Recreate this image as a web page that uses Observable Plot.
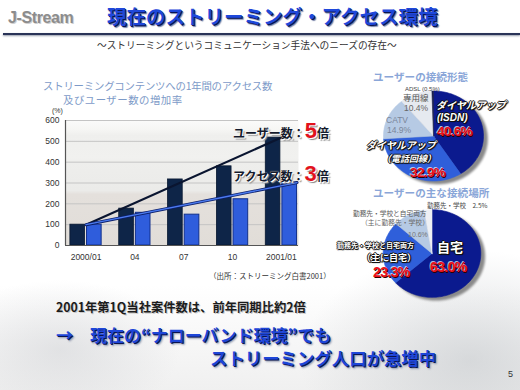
<!DOCTYPE html>
<html><head><meta charset="utf-8">
<script src="https://cdn.jsdelivr.net/npm/d3@7"></script>
<script src="https://cdn.jsdelivr.net/npm/@observablehq/plot@0.6"></script>
<style>
html,body{margin:0;padding:0;}
body{width:520px;height:390px;overflow:hidden;position:relative;font-family:"Noto Sans CJK JP",sans-serif;
 background:
  radial-gradient(ellipse 170px 110px at 470px 360px, rgba(190,194,198,0.55), rgba(255,255,255,0) 100%),
  radial-gradient(ellipse 120px 70px at 60px 350px, rgba(200,202,206,0.45), rgba(255,255,255,0) 100%),
  linear-gradient(to bottom, #fff 0, #fff 285px, #f0f0f0 390px);}
.abs{position:absolute;white-space:nowrap;line-height:1;}
.plotbox{position:absolute;}
.ann{font-size:12px;font-weight:bold;color:#141a2c;text-shadow:0 0 1px #fff,1px 1px 0 #fff,2px 2px 1px #999;}
.ann .big{font-family:"Liberation Sans",Arial,sans-serif;font-size:22px;color:#e2121c;text-shadow:1px 1px 0 #fff,2px 2px 1px #888;}
.wl{color:#fff;font-weight:bold;font-style:italic;text-shadow:-1px 0 0 #111,1px 0 0 #111,0 -1px 0 #111,0 1px 0 #111,1px 1px 1px #000;}
.red{font-family:"Liberation Sans",Arial,sans-serif;font-weight:bold;color:#ec101a;letter-spacing:-0.6px;text-shadow:-1px -1px 0 rgba(255,255,255,0.7),1px 1px 0 #2a0000;}
.blue{font-weight:bold;color:#1e46d8;text-shadow:1px 1px 0 #0a1450,2px 2px 2px #8890a8;}
.lib{font-family:"Liberation Sans",Arial,sans-serif;}
</style></head><body>

<script>
// ---------- data ----------
const periods = ["2000/01", "04", "07", "10", "2001/01"];
const userGrowth = [100, 177, 317, 380, 518];
const accessGrowth = [100, 157, 148, 222, 302];
const yTicks = [0, 100, 200, 300, 400, 500, 600];

const connTypes = ["ダイヤルアップ(ISDN)", "ダイヤルアップ(電話回線)", "CATV", "専用線", "ADSL"];
const connShares = [40.6, 32.9, 14.9, 10.4, 0.5];
const connColors = ["#0b1a8e", "#2f5fda", "#b6cae4", "#e6eaf0", "#1a2050"];

const placeTypes = ["自宅", "勤務先・学校と自宅両方(主に自宅)", "勤務先・学校と自宅両方(主に勤務先・学校)", "勤務先・学校"];
const placeShares = [63.0, 23.3, 10.6, 2.5];
const placeColors = ["#0b1a8e", "#2f5fda", "#b6cae4", "#eef0f4"];

// ---------- bar chart ----------
const barW = 0.32;
const users = periods.map((p, i) => ({period: p, x1: i - barW, x2: i, v: userGrowth[i]}));
const access = periods.map((p, i) => ({period: p, x1: i, x2: i + barW, v: accessGrowth[i]}));
const last = periods.length - 1;
const userTrend = [{x: 0, y: userGrowth[0]}, {x: last, y: userGrowth[last]}];
const accessTrend = [{x: 0, y: accessGrowth[0]}, {x: last + barW, y: accessGrowth[last]}];
const xDomain = [-0.42, 4.35];

function svgOf(node) { return node.tagName.toLowerCase() === "svg" ? node : node.querySelector("svg"); }

const bar = Plot.plot({
  width: 330, height: 170,
  marginLeft: 65, marginRight: 32, marginTop: 20, marginBottom: 25,
  style: {background: "transparent", overflow: "visible", fontSize: "8.5px", color: "#333",
          fontFamily: "'Liberation Sans', Arial, sans-serif"},
  x: {domain: xDomain, ticks: periods.map((_, i) => i), tickFormat: i => periods[i], tickSize: 0, tickPadding: 8, label: null},
  y: {domain: [0, 600], ticks: yTicks, tickSize: 0, tickPadding: 6, label: null},
  marks: [
    Plot.frame({fill: "url(#barbg)", stroke: "none"}),
    Plot.ruleY(yTicks.slice(1), {stroke: "#c4c4c4", strokeWidth: 1}),
    Plot.rectY(users, {x1: "x1", x2: "x2", y: "v", fill: "#0e2548", stroke: "#081830", strokeWidth: 0.8, insetRight: 1}),
    Plot.rectY(access, {x1: "x1", x2: "x2", y: "v", fill: "#2f5ddc", stroke: "#12308c", strokeWidth: 1, insetLeft: 1}),
    Plot.ruleY([0], {stroke: "#555", strokeWidth: 1.2}),
    Plot.ruleX([xDomain[0]], {stroke: "#555", strokeWidth: 1.2}),
    Plot.line(userTrend, {x: "x", y: "y", stroke: "#0a1530", strokeWidth: 2.2}),
    Plot.line(accessTrend, {x: "x", y: "y", stroke: "#0c1f6a", strokeWidth: 3}),
    Plot.line(accessTrend, {x: "x", y: "y", stroke: "#4c7cf0", strokeWidth: 1.3})
  ]
});
const barSvg = svgOf(bar);
const defs = d3.select(barSvg).insert("defs", ":first-child");
const g = defs.append("linearGradient").attr("id", "barbg").attr("x1", 0).attr("y1", 0).attr("x2", 0).attr("y2", 1);
[[0, "#fbfbfa"], [0.07, "#f6f6f4"], [0.12, "#efefed"], [0.3, "#f1f1ef"], [0.33, "#eeeeec"], [0.56, "#ebebe9"], [0.59, "#e4e0dc"], [1, "#e1ddd8"]]
  .forEach(([o, c]) => g.append("stop").attr("offset", o).attr("stop-color", c));

// ---------- pies ----------
function piePlot(values, colors, rx, ry) {
  const arcs = d3.pie().sort(null)(values);
  const marks = arcs.map((a, k) => {
    const n = Math.max(2, Math.ceil((a.endAngle - a.startAngle) / 0.03));
    const ring = d3.range(n + 1).map(j => a.startAngle + (a.endAngle - a.startAngle) * j / n);
    const pts = [{x: 0, y: 0}, ...ring.map(t => ({x: Math.sin(t), y: Math.cos(t)})), {x: 0, y: 0}];
    return Plot.line(pts, {x: "x", y: "y", fill: colors[k], stroke: colors[k], strokeWidth: 0.6});
  });
  return Plot.plot({
    width: Math.round(2.6 * rx), height: Math.round(2.6 * ry), margin: 0,
    style: {background: "transparent", overflow: "visible"},
    x: {domain: [-1.3, 1.3], axis: null},
    y: {domain: [-1.3, 1.3], axis: null},
    marks
  });
}

function place(node, left, top, extra) {
  const d = document.createElement("div");
  d.className = "plotbox";
  d.style.left = left + "px"; d.style.top = top + "px";
  if (extra) Object.assign(d.style, extra);
  d.appendChild(node);
  document.body.appendChild(d);
  return d;
}

place(bar, 0, 100);
place(piePlot(connShares, connColors, 50, 45), 368, 77, {filter: "drop-shadow(4px 3px 1px #8a8a8a)"});
place(piePlot(placeShares, placeColors, 49, 44), 368, 196, {filter: "drop-shadow(4px 3px 1px #8a8a8a)"});
</script>

<!-- header -->
<div class="abs lib" style="left:8px;top:10px;font-weight:bold;font-size:16px;letter-spacing:-0.4px;color:#8c8c8c;text-shadow:1px 1px 0 #d0d0d0;">J-Stream</div>
<div class="abs" style="left:107px;top:6px;font-size:19.5px;font-weight:bold;color:#1f48da;text-shadow:1px 1px 0 #0a1450,2px 2px 1px #7a84a8;">現在のストリーミング・アクセス環境</div>
<div class="abs" style="left:3px;top:33px;width:517px;height:2px;background:#2a3458;box-shadow:0 1px 2px #9098a8;"></div>
<div class="abs" style="left:97px;top:41px;font-size:9.7px;color:#333;">～ストリーミングというコミュニケーション手法へのニーズの存在～</div>

<!-- bar chart texts -->
<div class="abs" style="left:43px;top:81px;font-size:10.4px;letter-spacing:-0.2px;color:#7d9ac8;">ストリーミングコンテンツへの1年間のアクセス数</div>
<div class="abs" style="left:63px;top:95px;font-size:10.4px;letter-spacing:0.5px;color:#7d9ac8;">及びユーザー数の増加率</div>
<div class="abs lib" style="left:52px;top:107px;font-size:7px;color:#333;">(%)</div>
<div class="abs ann" style="left:233px;top:120px;">ユーザー数：<span class="big">5</span>倍</div>
<div class="abs ann" style="left:233px;top:163px;">アクセス数：<span class="big">3</span>倍</div>
<div class="abs" style="left:209px;top:272px;font-size:7.5px;color:#333;">（出所：ストリーミング白書2001）</div>

<!-- pie 1 texts -->
<div class="abs" style="left:373px;top:72px;font-size:10.6px;color:#8aa6d8;font-weight:bold;z-index:2;">ユーザーの接続形態</div>
<div class="abs lib" style="left:405px;top:85.5px;font-size:6px;color:#444;z-index:2;">ADSL (0.5%)</div>
<div class="abs" style="left:403px;top:93px;font-size:8.5px;color:#555;z-index:2;">専用線</div>
<div class="abs lib" style="left:404px;top:104px;font-size:8.5px;color:#666;z-index:2;">10.4%</div>
<div class="abs lib" style="left:386px;top:116px;font-size:8.5px;color:#7a869a;z-index:2;">CATV</div>
<div class="abs lib" style="left:387px;top:126px;font-size:8.5px;color:#7a869a;z-index:2;">14.9%</div>
<div class="abs wl" style="left:436px;top:100px;font-size:10px;z-index:2;">ダイヤルアップ</div>
<div class="abs wl lib" style="left:437px;top:113px;font-size:10px;z-index:2;">(ISDN)</div>
<div class="abs red" style="left:437px;top:124.5px;font-size:13.5px;z-index:2;">40.6%</div>
<div class="abs wl" style="left:366px;top:139.5px;font-size:10px;z-index:2;">ダイヤルアップ</div>
<div class="abs wl" style="left:382px;top:154px;font-size:9px;z-index:2;">（電話回線）</div>
<div class="abs red" style="left:410px;top:165.8px;font-size:13.5px;z-index:2;">32.9%</div>

<!-- pie 2 texts -->
<div class="abs" style="left:373px;top:187.5px;font-size:10.6px;color:#8aa6d8;font-weight:bold;z-index:2;">ユーザーの主な接続場所</div>
<div class="abs" style="left:427px;top:202px;font-size:6.5px;color:#444;z-index:2;">勤務先・学校　2.5%</div>
<div class="abs" style="left:353px;top:209.5px;font-size:6.7px;color:#555;z-index:2;">勤務先・学校と自宅両方</div>
<div class="abs" style="left:361px;top:219px;font-size:6.8px;color:#666;z-index:2;">（主に勤務先・学校）</div>
<div class="abs lib" style="left:408px;top:231px;font-size:7px;color:#777;z-index:2;">10.6%</div>
<div class="abs wl" style="left:337px;top:242px;font-size:7px;font-style:normal;z-index:2;">勤務先・学校と自宅両方</div>
<div class="abs wl" style="left:362px;top:252.6px;font-size:9px;font-style:normal;z-index:2;">（主に自宅）</div>
<div class="abs red" style="left:373px;top:264.5px;font-size:14px;z-index:2;">23.3%</div>
<div class="abs wl" style="left:437px;top:240px;font-size:13px;font-style:normal;z-index:2;">自宅</div>
<div class="abs red" style="left:430px;top:260px;font-size:14px;z-index:2;">63.0%</div>

<!-- bottom texts -->
<div class="abs" style="left:56px;top:301px;font-size:12.3px;font-weight:bold;color:#1c1c1c;text-shadow:1px 1px 0 #c8c8c8;">2001年第1Q当社案件数は、前年同期比約2倍</div>
<div class="abs blue" style="left:56px;top:326px;font-size:17px;">→</div>
<div class="abs blue" style="left:90px;top:326px;font-size:17px;">現在の“ナローバンド環境”でも</div>
<div class="abs blue" style="left:210px;top:348.5px;font-size:17.4px;">ストリーミング人口が急増中</div>
<div class="abs lib" style="left:508px;top:370px;font-size:9px;color:#333;">5</div>
</body></html>
